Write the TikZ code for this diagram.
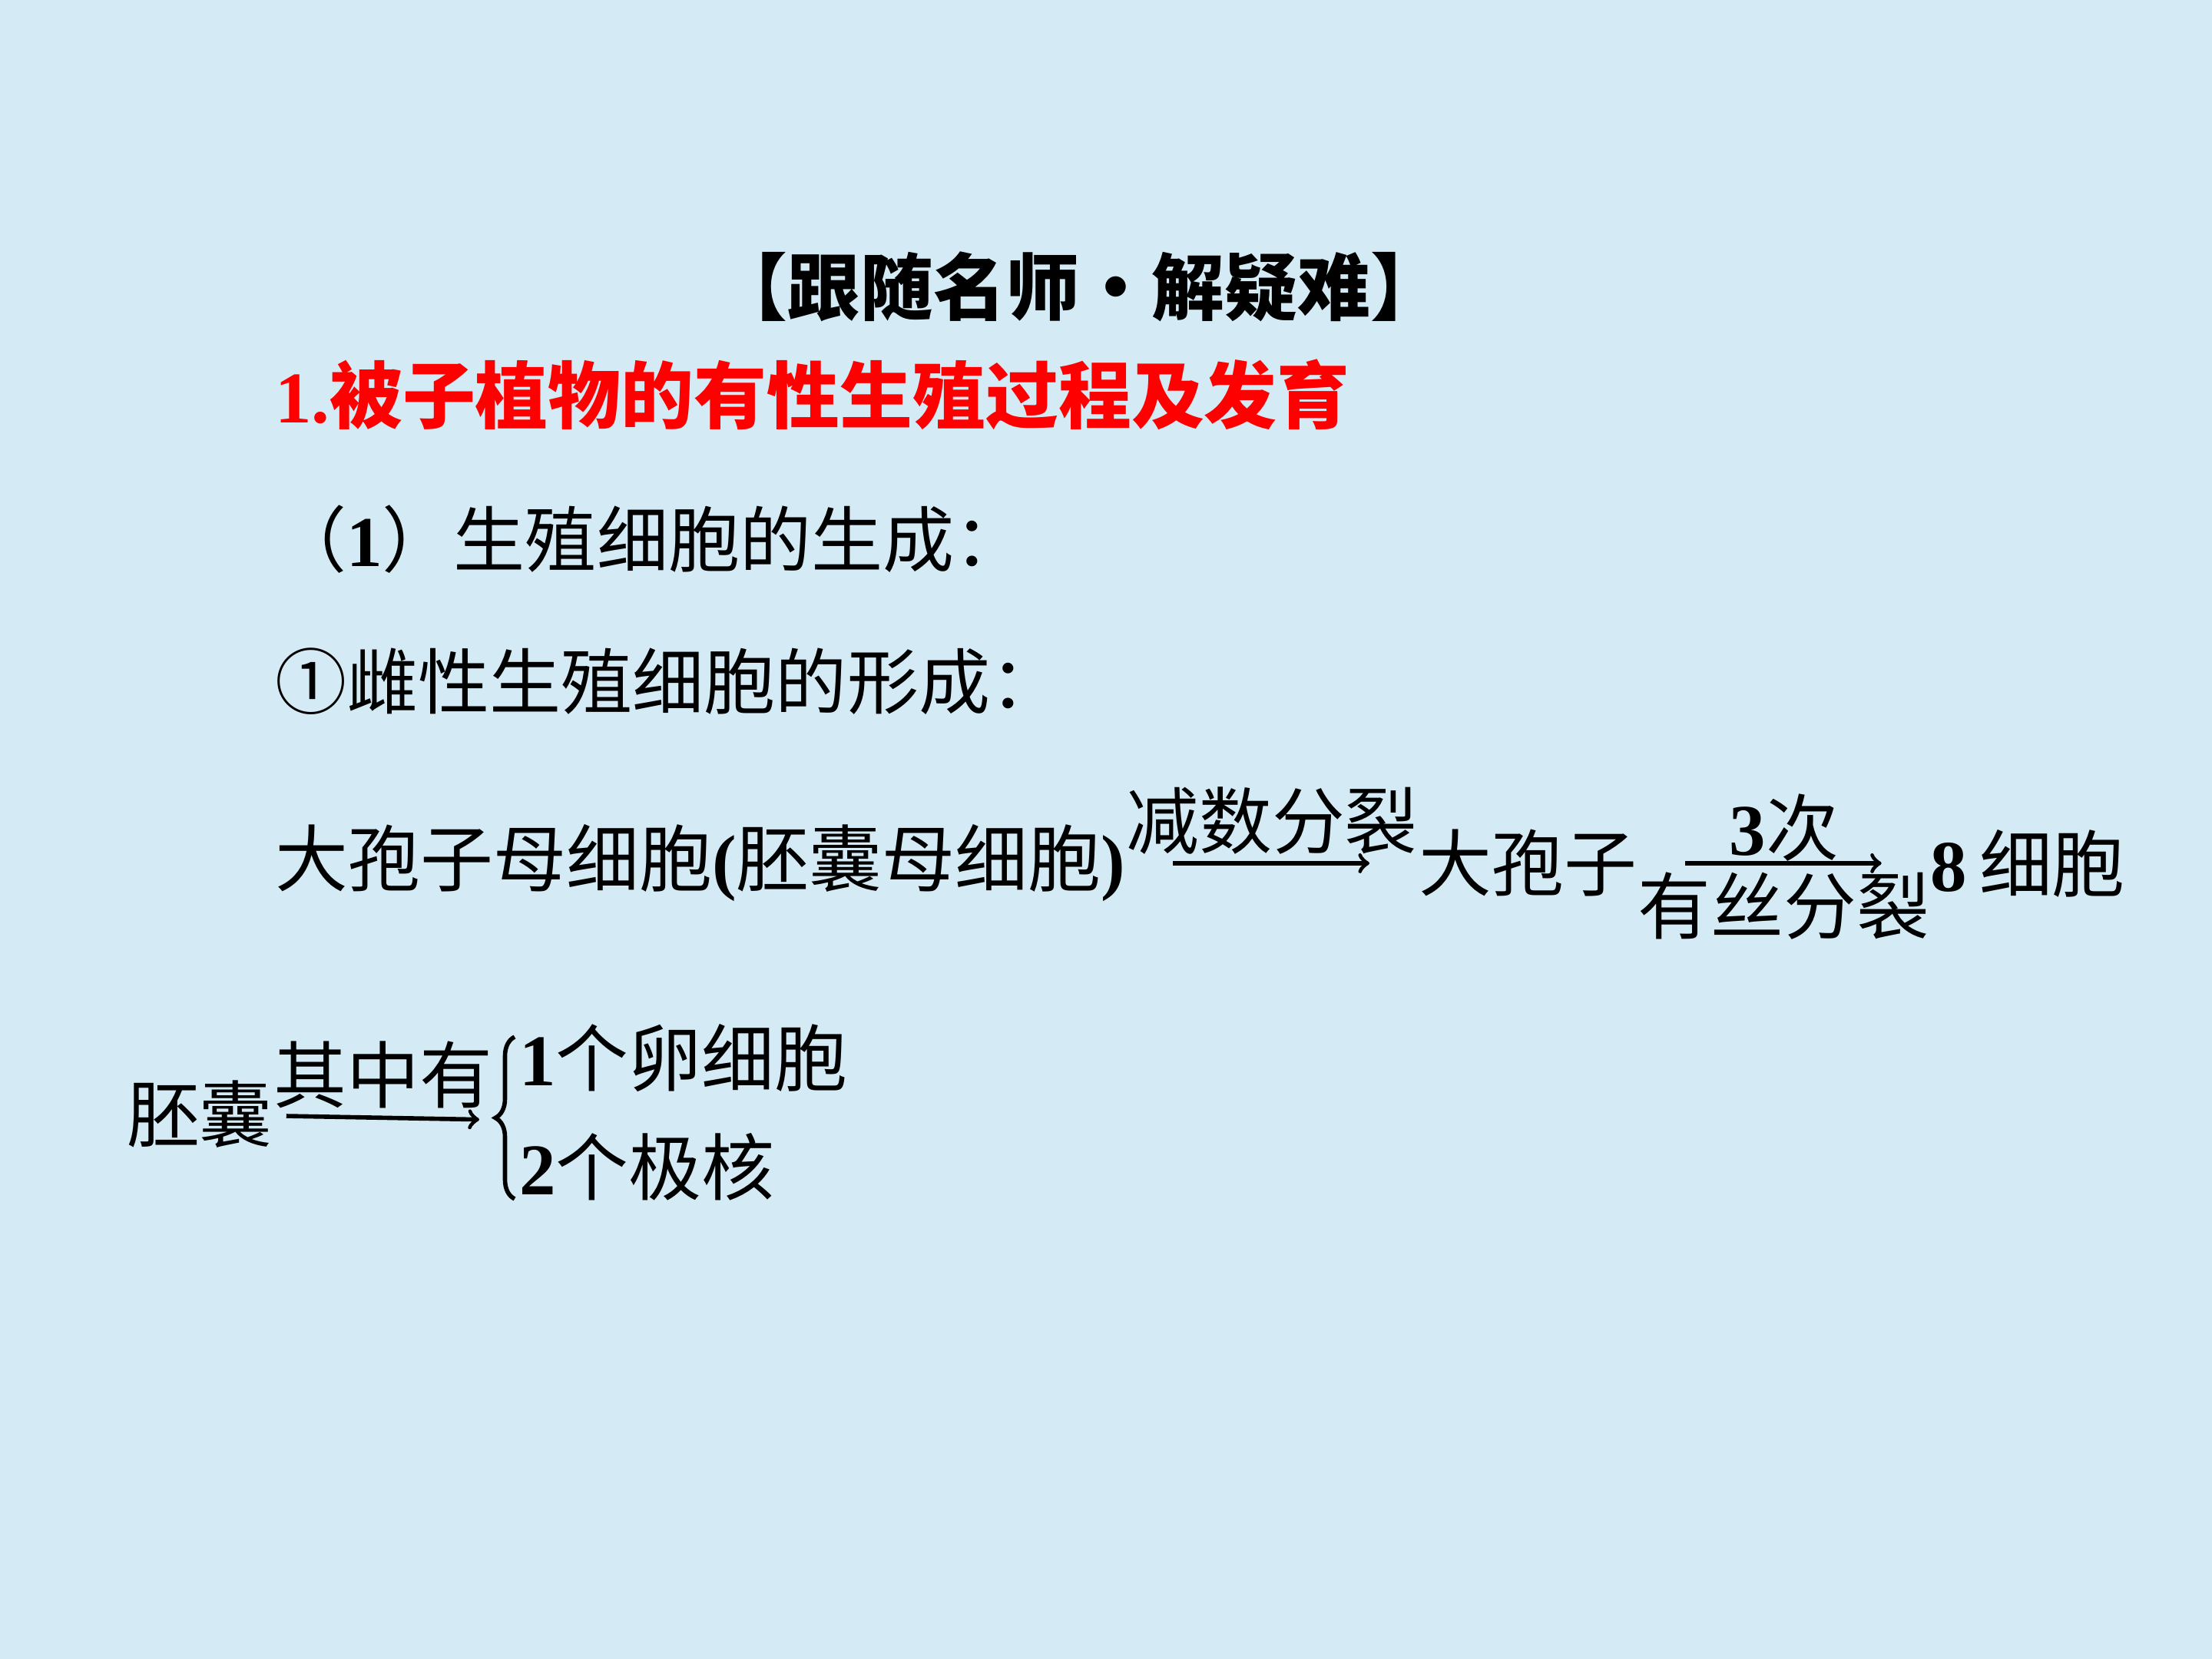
\documentclass[tikz,border=0pt]{standalone}
\usepackage{fontspec}
\setmainfont{Liberation Serif}
\newfontfamily\cjk{Noto Sans CJK SC}
\usepackage{tikz}
\usetikzlibrary{arrows,positioning,decorations.pathreplacing}
\definecolor{slidebg}{RGB}{212,235,246}
\newcommand{\numb}[1]{{\rmfamily\bfseries #1}}

\begin{document}
\begin{tikzpicture}[>=to,auto,node distance=3.82cm,line width=1.6pt]
%line width=1.6pt

   \tikzstyle{every node}=[inner sep=0pt,outer sep=0pt,anchor=west,font=\fontsize{27}{30}\selectfont\cjk]
   \tikzstyle{flow}=[->,shorten >=0.64cm,shorten <=0.62cm]
   \tikzstyle{above label}=[above=0.12cm,anchor=south]
   \tikzstyle{below label}=[below=0.12cm,anchor=north]

  \fill[slidebg] (0,0) rectangle (28.8,21.6);
  \useasboundingbox (0,0) rectangle (28.8,21.6);

  \node[anchor=center,font=\fontsize{27}{30}\selectfont\cjk\bfseries] (title) at (14.05,17.87) {【跟随名师·解疑难】};
  \node[red,font=\fontsize{27}{30}\selectfont\cjk\bfseries] (topic) at (3.58,16.46) {\numb{1.}被子植物的有性生殖过程及发育};
  \node[font=\fontsize{26.5}{30}\selectfont\cjk] (gen) at (3.58,14.58) {（\numb{1}）生殖细胞的生成：};
  \node[font=\fontsize{26.5}{30}\selectfont\cjk] (female) at (3.58,12.73) {①雌性生殖细胞的形成：};

  \node (mother) at (3.58,10.36) {大孢子母细胞\numb{(}胚囊母细胞\numb{)}};
  \node (spore) [right=3.82cm of mother] {大孢子};
  \node (eight) [right=3.82cm of spore] {\numb{8}\,细胞};

  \node (sac) at (1.65,7.09) {胚囊};
  \coordinate (fork) at (6.43,7.02);
  \coordinate (bracelow) at (6.70,5.99);
  \coordinate (bracehigh) at (6.70,8.10);
  \node (egg) at (6.76,7.82) {\numb{1}个卵细胞};
  \node (polar) at (6.76,6.41) {\numb{2}个极核};

%, arrows
 \path (mother) edge [flow] node [above label] {减数分裂} (spore)
       (spore) edge [flow] node [above=0.02cm,anchor=south] {\numb{3}次}
                           node [below label] {有丝分裂} (eight)
       (sac) edge [->,shorten <=0.18cm,shorten >=0.19cm] node [above label] {其中有} (fork);
 \draw [decorate,decoration={brace,amplitude=0.25cm}] (bracelow) -- (bracehigh);

\end{tikzpicture}
\end{document}
